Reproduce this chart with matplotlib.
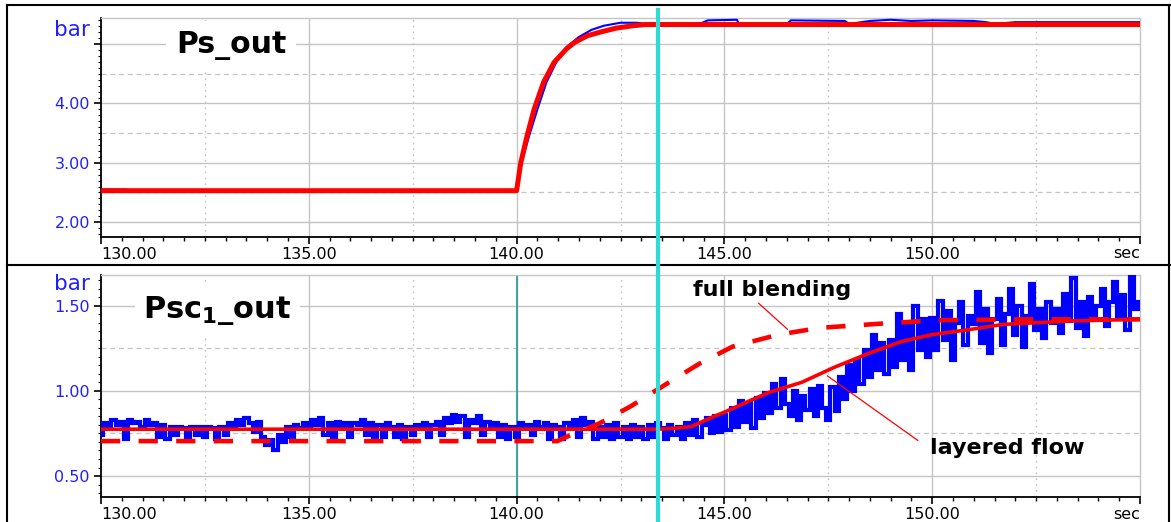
import numpy as np
import matplotlib
matplotlib.use('Agg')
import matplotlib.pyplot as plt
from matplotlib.ticker import MultipleLocator, FixedLocator
from matplotlib.lines import Line2D
import matplotlib.transforms as mtransforms

plt.rcParams['font.family'] = ['DejaVu Sans']
plt.rcParams['mathtext.fontset'] = 'dejavusans'

# ---------------- data ----------------
# top panel: Ps_out
ps_red_t = [130.0, 140.0, 140.1, 140.25, 140.42, 140.65, 140.9, 141.2, 141.4, 141.7,
            142.0, 142.4, 142.8, 143.1, 155.0]
ps_red_v = [2.53, 2.53, 3.0, 3.45, 3.9, 4.36, 4.69, 4.92, 5.03, 5.14,
            5.2, 5.27, 5.31, 5.33, 5.33]
ps_blue_t = [130.0, 130.62, 130.62, 140.0, 140.12, 140.3, 140.5, 140.72, 140.95, 141.2,
             141.5, 141.8, 142.1, 142.5, 142.9, 143.1, 144.4, 144.6, 145.3, 145.35,
             146.5, 146.6, 147.9, 148.0, 148.5, 149.0, 149.5, 150.0, 151.0, 151.3,
             151.5, 152.0, 155.0]
ps_blue_v = [2.55, 2.55, 2.52, 2.52, 3.0, 3.45, 3.9, 4.36, 4.69, 4.95,
             5.12, 5.24, 5.31, 5.36, 5.36, 5.34, 5.34, 5.40, 5.41, 5.34,
             5.34, 5.40, 5.39, 5.34, 5.39, 5.41, 5.39, 5.40, 5.39, 5.37,
             5.34, 5.37, 5.37]

# bottom panel: Psc1_out
layered_t = [130.0, 143.4, 143.8, 144.2, 144.7, 145.0, 145.5, 146.06, 146.86, 147.66,
             148.47, 149.27, 150.0, 150.9, 151.7, 152.5, 153.3, 155.0]
layered_v = [0.775, 0.775, 0.78, 0.79, 0.845, 0.875, 0.93, 0.99, 1.05, 1.14,
             1.22, 1.29, 1.33, 1.36, 1.39, 1.40, 1.41, 1.42]
blend_t = [130.0, 140.98, 141.2, 142.0, 142.75, 143.6, 144.4, 145.2, 146.3, 147.3,
           149.1, 150.2, 152.5, 155.0]
blend_v = [0.705, 0.705, 0.73, 0.81, 0.91, 1.04, 1.16, 1.26, 1.33, 1.37,
           1.40, 1.415, 1.42, 1.42]
meas_v = [
    0.74, 0.81, 0.79, 0.83, 0.80, 0.82, 0.72, 0.83, 0.81, 0.82,
    0.79, 0.83, 0.80, 0.81, 0.73, 0.80, 0.72, 0.79, 0.74, 0.79,
    0.78, 0.72, 0.79, 0.74, 0.79, 0.73, 0.79, 0.78, 0.72, 0.79,
    0.74, 0.81, 0.79, 0.83, 0.80, 0.84, 0.81, 0.76, 0.82, 0.73,
    0.68, 0.71, 0.65, 0.74, 0.70, 0.79, 0.73, 0.80, 0.78, 0.81,
    0.79, 0.83, 0.80, 0.84, 0.74, 0.81, 0.73, 0.82, 0.79, 0.81,
    0.73, 0.81, 0.80, 0.83, 0.74, 0.81, 0.72, 0.80, 0.73, 0.81,
    0.79, 0.73, 0.80, 0.72, 0.79, 0.74, 0.80, 0.78, 0.81, 0.73,
    0.80, 0.82, 0.74, 0.84, 0.81, 0.86, 0.82, 0.85, 0.73, 0.83,
    0.81, 0.85, 0.74, 0.82, 0.79, 0.81, 0.73, 0.80, 0.72, 0.79,
    0.73, 0.81, 0.79, 0.80, 0.74, 0.82, 0.79, 0.81, 0.72, 0.80,
    0.79, 0.72, 0.81, 0.78, 0.83, 0.73, 0.84, 0.80, 0.82, 0.72,
    0.79, 0.73, 0.80, 0.72, 0.81, 0.73, 0.79, 0.72, 0.80, 0.73,
    0.79, 0.72, 0.80, 0.73, 0.81, 0.78, 0.72, 0.80, 0.74, 0.79,
    0.72, 0.81, 0.74, 0.83, 0.73, 0.80, 0.84, 0.75, 0.85, 0.76,
    0.86, 0.77, 0.90, 0.79, 0.94, 0.82, 0.93, 0.78, 0.96, 0.84,
    0.99, 0.87, 1.04, 0.90, 1.07, 0.92, 0.85, 1.00, 0.83, 0.97,
    0.89, 1.01, 0.85, 1.03, 0.90, 0.83, 1.02, 0.88, 1.08, 0.95,
    1.15, 1.00, 1.18, 1.04, 1.24, 1.08, 1.33, 1.12, 1.28, 1.10,
    1.30, 1.14, 1.45, 1.18, 1.38, 1.12, 1.50, 1.24, 1.42, 1.20,
    1.43, 1.24, 1.53, 1.30, 1.47, 1.18, 1.40, 1.52, 1.27, 1.44,
    1.39, 1.58, 1.28, 1.48, 1.22, 1.42, 1.54, 1.27, 1.45, 1.60,
    1.33, 1.50, 1.26, 1.44, 1.63, 1.36, 1.48, 1.31, 1.52, 1.40,
    1.48, 1.34, 1.57, 1.41, 1.66, 1.37, 1.52, 1.32, 1.55, 1.43,
    1.50, 1.60, 1.38, 1.52, 1.64, 1.42, 1.56, 1.36, 1.68, 1.48,
    1.52]
meas_t = np.round(np.arange(len(meas_v)) * 0.1 + 130.0, 2)

x_ticks = [130, 135, 140, 145, 150, 155]
x_labels = ['130.00', '135.00', '140.00', '145.00', '150.00', '']
top_y_ticks = [2, 3, 4, 5]
top_y_labels = ['2.00', '3.00', '4.00', '']
bot_y_ticks = [0.5, 1.0, 1.5]
bot_y_labels = ['0.50', '1.00', '1.50']
marker_time = 143.4
start_time = 140.0

# ---------------- figure ----------------
W, H = 1171, 522
fig = plt.figure(figsize=(W / 100, H / 100), dpi=100)
fig.patch.set_facecolor('white')


def rect(l, t, r, b):
    return [l / W, 1 - b / H, (r - l) / W, (b - t) / H]


ax1 = fig.add_axes(rect(101, 18, 1140, 237))
ax2 = fig.add_axes(rect(101, 275, 1140, 497))

GRID = '#c4c4c4'
BLUE = '#0000ff'
RED = '#ff0000'
TICKBLUE = '#2020ff'


def style(ax, ylim, yticks, ylabels, yminor, hmaj, hmin):
    ax.set_xlim(130, 155)
    ax.set_ylim(*ylim)
    for sp in ['top', 'right']:
        ax.spines[sp].set_color(GRID)
        ax.spines[sp].set_linewidth(1.0)
    for sp in ['left', 'bottom']:
        ax.spines[sp].set_color('black')
        ax.spines[sp].set_linewidth(1.3)
    ax.xaxis.set_major_locator(FixedLocator(x_ticks))
    ax.set_xticklabels(x_labels)
    ax.get_xticklabels()[0].set_horizontalalignment('left')
    ax.xaxis.set_minor_locator(MultipleLocator(0.5))
    ax.yaxis.set_major_locator(FixedLocator(yticks))
    ax.set_yticklabels(ylabels)
    ax.yaxis.set_minor_locator(MultipleLocator(yminor))
    ax.tick_params(axis='x', which='major', direction='out', length=5, width=1.2,
                   labelsize=11.5, pad=2, colors='black')
    ax.tick_params(axis='x', which='minor', direction='out', length=3, width=1.0)
    ax.tick_params(axis='y', which='major', direction='out', length=5, width=1.2,
                   labelsize=11.5, pad=3, labelcolor=TICKBLUE, color='black')
    ax.tick_params(axis='y', which='minor', direction='out', length=2.5, width=0.8)
    ax.tick_params(top=False, right=False, which='both')
    for v in hmaj:
        ax.axhline(v, color=GRID, lw=1.0, zorder=0.5)
    for v in hmin:
        ax.axhline(v, color=GRID, lw=0.9, ls=(0, (4, 3)), zorder=0.5)
    for v in [135, 140, 145, 150]:
        ax.axvline(v, color=GRID, lw=1.0, zorder=0.5)
    for v in [132.5, 137.5, 142.5, 147.5, 152.5]:
        ax.axvline(v, color=GRID, lw=1.0, ls=(0, (1.2, 3)), zorder=0.5)


style(ax1, (1.75, 5.44), top_y_ticks, top_y_labels, 0.1,
      [2, 3, 4, 5], [2.5, 3.5, 4.5])
style(ax2, (0.377, 1.68), bot_y_ticks, bot_y_labels, 0.05,
      [0.5, 1.0, 1.5], [0.75, 1.25])

# top curves
ax1.plot(ps_blue_t, ps_blue_v, color=BLUE, lw=1.5, zorder=3)
ax1.plot(ps_red_t, ps_red_v, color=RED, lw=3.6, zorder=4, solid_capstyle='butt')

# bottom curves
ax2.axvline(start_time, color='#1f9a9a', lw=1.2, zorder=2)
ax2.plot(meas_t, meas_v, color=BLUE, lw=3.0, drawstyle='steps-mid', zorder=3,
         solid_joinstyle='miter')
ax2.plot(layered_t, layered_v, color=RED, lw=2.6, zorder=4)
ax2.plot(blend_t, blend_v, color=RED, lw=3.3, ls=(0, (4.2, 4.0)), zorder=4,
         dash_capstyle='butt')

# titles
ax1.text((176 - 101) / 1039, 1 - (53 - 18) / 219, 'Ps_out', transform=ax1.transAxes,
         fontsize=21.5, fontweight='bold', va='baseline', ha='left', zorder=6,
         bbox=dict(facecolor='white', edgecolor='none', pad=7))
ax2.text((143 - 101) / 1039, 1 - (318 - 275) / 222, r'$\mathbf{Psc_{1}\_out}$',
         transform=ax2.transAxes, fontsize=22, va='baseline', ha='left', zorder=6,
         bbox=dict(facecolor='white', edgecolor='none', pad=6))

# annotations
ax2.text(144.25, 1.556, 'full blending', fontsize=16, fontweight='bold',
         ha='left', va='baseline', zorder=7)
ax2.annotate('', xy=(146.57, 1.35), xytext=(145.77, 1.526),
             arrowprops=dict(arrowstyle='-', color=RED, lw=0.9), zorder=7)
ax2.text(149.95, 0.63, 'layered flow', fontsize=16, fontweight='bold',
         ha='left', va='baseline', zorder=7)
ax2.annotate('', xy=(147.42, 1.098), xytext=(149.71, 0.699),
             arrowprops=dict(arrowstyle='-', color=RED, lw=0.9), zorder=7)

# units
fig.text(90 / W, 1 - 36 / H, 'bar', color=TICKBLUE, fontsize=15.5, ha='right', va='baseline')
fig.text(90 / W, 1 - 290 / H, 'bar', color=TICKBLUE, fontsize=15.5, ha='right', va='baseline')
fig.text(1140 / W, 1 - 258 / H, 'sec', color='black', fontsize=11.5, ha='right', va='baseline')
fig.text(1140 / W, 1 - 519 / H, 'sec', color='black', fontsize=11.5, ha='right', va='baseline')

# cursor line across both panels
trans = mtransforms.blended_transform_factory(ax1.transData, fig.transFigure)
fig.add_artist(Line2D([marker_time, marker_time], [1 - 10 / H, 0], transform=trans,
                      color='#2edbd5', lw=3.0, zorder=10))

# frame lines
ft = fig.transFigure
fig.add_artist(Line2D([7 / W, 1], [1 - 5 / H, 1 - 5 / H], transform=ft, color='black', lw=1.5))
fig.add_artist(Line2D([7 / W, 7 / W], [1 - 5 / H, 0], transform=ft, color='black', lw=1.5))
fig.add_artist(Line2D([7 / W, 1], [1 - 265 / H, 1 - 265 / H], transform=ft, color='black', lw=1.5))
fig.add_artist(Line2D([1169 / W, 1169 / W], [1 - 5 / H, 0], transform=ft, color='black', lw=1.5))

fig.savefig('out.png', dpi=100, facecolor='white')
